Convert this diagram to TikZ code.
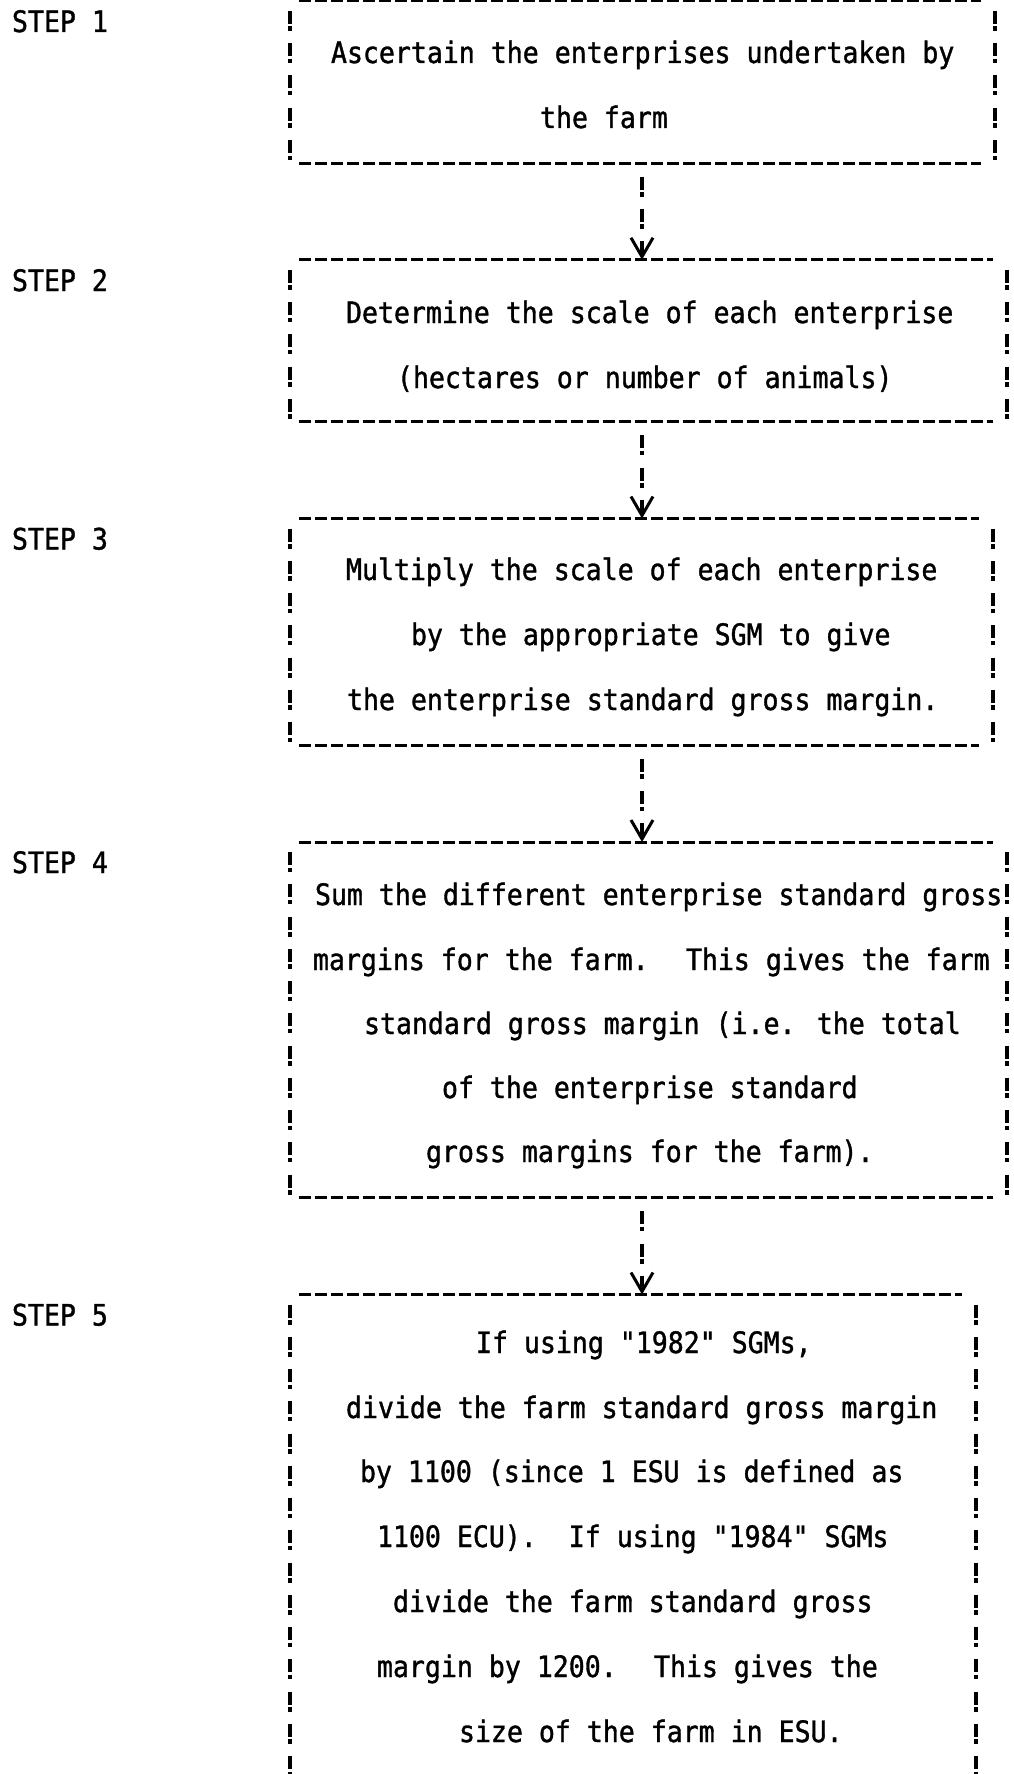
\documentclass[tikz,border=0pt]{standalone}
\usepackage{fontspec}
\newfontfamily\typewriter{DejaVu Sans Mono}[FakeStretch=0.9,FakeBold=1.2]
\usetikzlibrary{arrows.meta}

% typed frame: underscore rules top and bottom, columns of "!" at the sides
\newcommand\typedframe[1]{%
  \draw[rule] ([xshift=9pt]#1.north west) -- ([xshift=-14pt]#1.north east);
  \draw[rule] ([xshift=9pt]#1.south west) -- ([xshift=-14pt]#1.south east);
  \draw[bang] (#1.north west) -- (#1.south west);
  \draw[bang] (#1.north east) -- (#1.south east);}

\begin{document}
\begin{tikzpicture}[x=1pt,y=-1pt,
  txt/.style={anchor=base west, inner sep=0pt, outer sep=0pt,
              font=\typewriter\fontsize{29.5}{32}\selectfont},
  frame/.style={anchor=north west, inner sep=0pt, outer sep=0pt, draw=none},
  rule/.style={line width=3pt, dash pattern=on 11.5pt off 4.5pt},
  bang/.style={line width=4.5pt,
               dash pattern=on 13pt off 2.5pt on 4.5pt off 12.25pt,
               dash phase=22.25pt},
  link/.style={line width=4.5pt,
               dash pattern=on 13pt off 2.5pt on 4.5pt off 12.25pt,
               dash phase=18.75pt,
               -{Straight Barb[length=19pt,width=22pt,line width=3pt]}}
]
\useasboundingbox (0,0) rectangle (1014,1774);
\fill[white] (0,0) rectangle (1014,1774);
\clip (0,0) rectangle (1014,1774);

% step boxes
\node[frame, minimum width=705pt, minimum height=162pt]    (b1) at (290,1) {};
\node[frame, minimum width=717pt, minimum height=162pt]    (b2) at (290,259.75) {};
\node[frame, minimum width=703pt, minimum height=226.75pt] (b3) at (290,518.5) {};
\node[frame, minimum width=717pt, minimum height=355.75pt] (b4) at (290,842) {};
\node[frame, minimum width=686pt, minimum height=520pt]    (b5) at (290,1294.5) {};

\typedframe{b1}
\typedframe{b2}
\typedframe{b3}
\typedframe{b4}
\typedframe{b5}

% step labels
\node[txt] (s1) at (12,32)     {STEP 1};
\node[txt] (s2) at (12,291)    {STEP 2};
\node[txt] (s3) at (12,549.5)  {STEP 3};
\node[txt] (s4) at (12,873)    {STEP 4};
\node[txt] (s5) at (12,1325.5) {STEP 5};

% box texts
\node[txt] (t11) at (331,63)  {Ascertain the enterprises undertaken by};
\node[txt] (t12) at (540,128) {the farm};

\node[txt] (t21) at (346,323) {Determine the scale of each enterprise};
\node[txt] (t22) at (397,388) {(hectares or number of animals)};

\node[txt] (t31) at (346,580) {Multiply the scale of each enterprise};
\node[txt] (t32) at (411,645) {by the appropriate SGM to give};
\node[txt] (t33) at (347,710) {the enterprise standard gross margin.};

\node[txt] (t41) at (315,905)  {Sum the different enterprise standard gross};
\node[txt] (t42) at (313,970)  {margins for the farm.~ This gives the farm};
\node[txt] (t43) at (364,1034) {standard gross margin (i.e. the total};
\node[txt] (t44) at (442,1098) {of the enterprise standard};
\node[txt] (t45) at (426,1162) {gross margins for the farm).};

\node[txt] (t51) at (476,1353) {If using "1982" SGMs,};
\node[txt] (t52) at (346,1418) {divide the farm standard gross margin};
\node[txt] (t53) at (360,1482) {by 1100 (since 1 ESU is defined as};
\node[txt] (t54) at (377,1547) {1100 ECU).~ If using "1984" SGMs};
\node[txt] (t55) at (393,1612) {divide the farm standard gross};
\node[txt] (t56) at (377,1677) {margin by 1200.~ This gives the};
\node[txt] (t57) at (459,1742) {size of the farm in ESU.};

% connectors down the middle
\coordinate (spine) at (642,0);
\draw[link] (b1.south -| spine) -- (b2.north -| spine);
\draw[link] (b2.south -| spine) -- (b3.north -| spine);
\draw[link] (b3.south -| spine) -- (b4.north -| spine);
\draw[link] (b4.south -| spine) -- (b5.north -| spine);
\end{tikzpicture}
\end{document}
